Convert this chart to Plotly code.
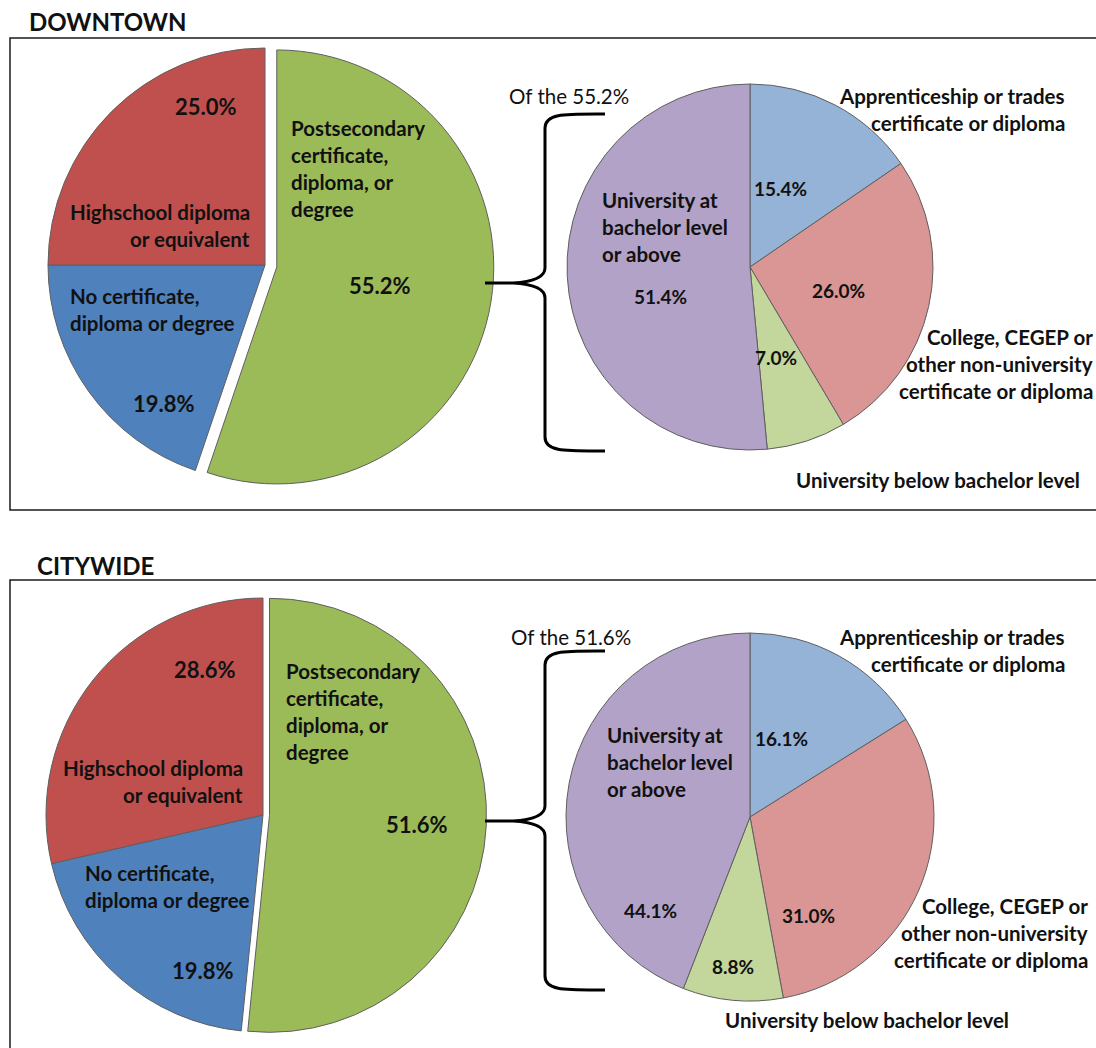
import plotly.graph_objects as go

W, H = 1096, 1048

# ---- data -------------------------------------------------------------
main_labels = [
    "Postsecondary certificate, diploma, or degree",
    "No certificate, diploma or degree",
    "Highschool diploma or equivalent",
]
downtown_main = [55.2, 19.8, 25.0]
citywide_main = [51.6, 19.8, 28.6]

sub_labels = [
    "Apprenticeship or trades certificate or diploma",
    "College, CEGEP or other non-university certificate or diploma",
    "University below bachelor level",
    "University at bachelor level or above",
]
downtown_sub = [15.4, 26.0, 7.0, 51.4]
citywide_sub = [16.1, 31.0, 8.8, 44.1]

# ---- styling ----------------------------------------------------------
main_colors = ["#9BBB59", "#4F81BD", "#C0504D"]
sub_colors = ["#95B3D7", "#D99694", "#C3D69B", "#B3A2C7"]
FONT = "Lato"
TXT = "#111111"
LABEL_SIZE = 20.5
PCT_SIZE = 22
SUB_PCT_SIZE = 19


def fx(x):
    return x / W


def fy(y):
    return 1 - y / H


def pie_domain(cx, cy, r, pull):
    h = r * (1 + pull)
    return dict(x=[fx(cx - h), fx(cx + h)], y=[fy(cy + h), fy(cy - h)])


def pct(v):
    return f"{v:.1f}%"


annotations = []
shapes = []


def add_text(x, y, text, size=LABEL_SIZE, anchor="center", weight="bold"):
    annotations.append(dict(
        x=fx(x), y=fy(y), xref="paper", yref="paper", text=text,
        showarrow=False, xanchor=anchor, yanchor="middle",
        font=dict(family=FONT, size=size, color=TXT, weight=weight),
    ))


def add_lines(x, y0, lines, anchor="left", step=27, size=LABEL_SIZE):
    for i, line in enumerate(lines):
        add_text(x, y0 + i * step, line, size=size, anchor=anchor)


def add_brace(top, bottom, mid, xv=545, xend=605, tip=513, stem=485):
    P = lambda x, y: f"{fx(x):.5f},{fy(y):.5f}"
    path = (
        f"M {P(xend, top)} C {P(565, top)} {P(xv, top - 1)} {P(xv, top + 14)} "
        f"L {P(xv, mid - 15)} C {P(xv, mid - 5)} {P(530, mid - 1)} {P(tip, mid)} "
        f"C {P(530, mid + 1)} {P(xv, mid + 5)} {P(xv, mid + 15)} "
        f"L {P(xv, bottom - 14)} C {P(xv, bottom + 1)} {P(565, bottom)} {P(xend, bottom)} "
        f"M {P(stem, mid)} L {P(tip, mid)}"
    )
    shapes.append(dict(type="path", path=path, xref="paper", yref="paper",
                       line=dict(color="#000000", width=3)))


fig = go.Figure()

panels = [
    dict(name="DOWNTOWN", title_xy=(27, 22), box=(38, 510),
         main=downtown_main, sub=downtown_sub,
         left=(265, 265, 217, 0.055), right=(750, 267, 183),
         brace=(114, 451, 283)),
    dict(name="CITYWIDE", title_xy=(35, 565), box=(580, 1060),
         main=citywide_main, sub=citywide_sub,
         left=(263, 815, 217, 0.03), right=(750, 817, 184),
         brace=(651, 990, 821)),
]

for p in panels:
    cx, cy, r, pull = p["left"]
    fig.add_trace(go.Pie(
        labels=main_labels, values=p["main"], sort=False,
        direction="clockwise", rotation=0, pull=[pull, 0, 0],
        marker=dict(colors=main_colors, line=dict(color="#5f5f5f", width=1)),
        textinfo="none", hoverinfo="label+percent", showlegend=False,
        domain=pie_domain(cx, cy, r, pull),
    ))
    rx, ry, rr = p["right"]
    fig.add_trace(go.Pie(
        labels=sub_labels, values=p["sub"], sort=False,
        direction="clockwise", rotation=0,
        marker=dict(colors=sub_colors, line=dict(color="#5f5f5f", width=1)),
        textinfo="none", hoverinfo="label+percent", showlegend=False,
        domain=pie_domain(rx, ry, rr, 0),
    ))
    # frame and heading
    y0, y1 = p["box"]
    shapes.append(dict(type="rect", xref="paper", yref="paper",
                       x0=fx(10), x1=fx(1110), y0=fy(y1), y1=fy(y0),
                       line=dict(color="#1a1a1a", width=1.5)))
    tx, ty = p["title_xy"]
    add_text(tx, ty, p["name"], size=24, anchor="left")
    add_brace(*p["brace"])

# ---- DOWNTOWN labels --------------------------------------------------
d_main, d_sub = downtown_main, downtown_sub
add_text(206, 107, pct(d_main[2]), size=PCT_SIZE)
add_lines(252, 212, ["Highschool diploma", "or equivalent"], anchor="right")
add_lines(289, 128, ["Postsecondary", "certificate,", "diploma, or", "degree"])
add_text(380, 285, pct(d_main[0]), size=PCT_SIZE)
add_lines(68, 296, ["No certificate,", "diploma or degree"])
add_text(164, 404, pct(d_main[1]), size=PCT_SIZE)

add_text(507, 96, f"Of the {pct(d_main[0])}", anchor="left", weight="normal")
add_lines(1067, 96, ["Apprenticeship or trades", "certificate or diploma"], anchor="right")
add_lines(600, 200, ["University at", "bachelor level", "or above"])
add_text(660, 296, pct(d_sub[3]), size=SUB_PCT_SIZE)
add_text(780, 188, pct(d_sub[0]), size=SUB_PCT_SIZE)
add_text(838, 290, pct(d_sub[1]), size=SUB_PCT_SIZE)
add_text(776, 357, pct(d_sub[2]), size=SUB_PCT_SIZE)
add_lines(1095, 337, ["College, CEGEP or", "other non-university", "certificate or diploma"],
          anchor="right")
add_text(938, 480, "University below bachelor level")

# ---- CITYWIDE labels --------------------------------------------------
c_main, c_sub = citywide_main, citywide_sub
add_text(205, 669, pct(c_main[2]), size=PCT_SIZE)
add_lines(245, 768, ["Highschool diploma", "or equivalent"], anchor="right")
add_lines(284, 671, ["Postsecondary", "certificate,", "diploma, or", "degree"])
add_text(417, 824, pct(c_main[0]), size=PCT_SIZE)
add_lines(83, 873, ["No certificate,", "diploma or degree"])
add_text(203, 970, pct(c_main[1]), size=PCT_SIZE)

add_text(509, 637, f"Of the {pct(c_main[0])}", anchor="left", weight="normal")
add_lines(1067, 637, ["Apprenticeship or trades", "certificate or diploma"], anchor="right")
add_lines(605, 735, ["University at", "bachelor level", "or above"])
add_text(781, 738, pct(c_sub[0]), size=SUB_PCT_SIZE)
add_text(650, 910, pct(c_sub[3]), size=SUB_PCT_SIZE)
add_text(808, 915, pct(c_sub[1]), size=SUB_PCT_SIZE)
add_text(733, 966, pct(c_sub[2]), size=SUB_PCT_SIZE)
add_lines(1090, 906, ["College, CEGEP or", "other non-university", "certificate or diploma"],
          anchor="right")
add_text(867, 1020, "University below bachelor level")

fig.update_layout(
    width=W, height=H,
    margin=dict(l=0, r=0, t=0, b=0),
    paper_bgcolor="white", plot_bgcolor="white",
    annotations=annotations, shapes=shapes,
    font=dict(family=FONT),
)

fig.write_html("out.html")
